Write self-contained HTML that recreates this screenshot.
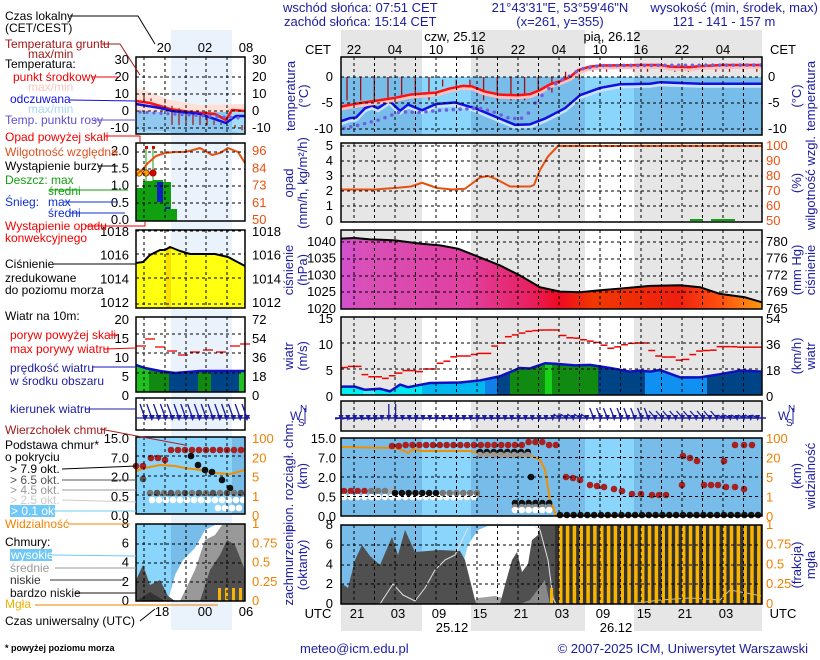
<!DOCTYPE html>
<html><head><meta charset="utf-8"><style>
html,body{margin:0;padding:0;background:#fff;width:820px;height:660px;overflow:hidden}
svg{display:block;font-family:"Liberation Sans",sans-serif}
</style></head><body>
<svg id="s" width="820" height="660" viewBox="0 0 820 660" xmlns="http://www.w3.org/2000/svg"></svg>
<script>
(function(){
var o=[];function a(s){o.push(s)}
function T(x,y,t,c,sz,anc,extra){a('<text x="'+x+'" y="'+y+'" fill="'+(c||'#000')+'" font-size="'+(sz||12)+'"'+(anc?' text-anchor="'+anc+'"':'')+(extra||'')+'>'+t+'</text>')}
function R(x,y,w,h,c,extra){a('<rect x="'+x+'" y="'+y+'" width="'+w+'" height="'+h+'" fill="'+c+'"'+(extra||'')+'/>')}
function L(x1,y1,x2,y2,c,w,extra){a('<line x1="'+x1+'" y1="'+y1+'" x2="'+x2+'" y2="'+y2+'" stroke="'+c+'" stroke-width="'+(w||1)+'"'+(extra||'')+'/>')}
function P(pts,c,w,fill){a('<polyline points="'+pts.map(function(p){return p[0]+','+p[1]}).join(' ')+'" stroke="'+(c||'none')+'" stroke-width="'+(w||1)+'" fill="'+(fill||'none')+'" stroke-linejoin="round"/>')}
function G(pts,fill){a('<polygon points="'+pts.map(function(p){return p[0]+','+p[1]}).join(' ')+'" fill="'+fill+'"/>')}
function interp(arr,x){for(var i=1;i<arr.length;i++)if(x<=arr[i][0]){var p=arr[i-1],q=arr[i];return p[1]+(q[1]-p[1])*(x-p[0])/(q[0]-p[0])}return arr[arr.length-1][1]}
var NAV='#1c1ca0',ORG='#f08000';
var X0=341,X1=762;
var bands=[[341,422,1],[422,471,0],[471,585,1],[585,634,0],[634,762,1]];
bands.forEach(function(b){if(b[2]){R(b[0],30,b[1]-b[0],27,'#e6e6e6');R(b[0],604,b[1]-b[0],27,'#e6e6e6');}});
function bg(y0,y1,night,day){bands.forEach(function(b){R(b[0],y0,b[1]-b[0],y1-y0,b[2]?night:day)})}
var VX=[];for(var k=0;k<20;k++)VX.push(354+20.5*k);
function grid(y0,y1,hy){VX.forEach(function(x){L(x,y0,x,y1,'#000',1,' stroke-dasharray="3,3"')});hy.forEach(function(y){L(X0,y,X1,y,'#000',1,' stroke-dasharray="3,3"')});a('<rect x="'+X0+'" y="'+y0+'" width="'+(X1-X0)+'" height="'+(y1-y0)+'" fill="none" stroke="#000" stroke-width="1.5"/>')}
T(283,12,'wschód słońca: 07:51 CET',NAV,13);T(284,26,'zachód słońca: 15:14 CET',NAV,13);
T(560,12,'21°43\'31"E, 53°59\'46"N',NAV,13,'middle');T(560,26,'(x=261,  y=355)',NAV,13,'middle');
T(818,12,'wysokość (min, środek, max)',NAV,13,'end');T(724,26,'121 - 141 - 157 m',NAV,13,'middle');
T(455,41,'czw, 25.12','#000',13,'middle');T(612,41,'pią, 26.12','#000',13,'middle');
T(318,54,'CET','#000',13,'middle');T(783,54,'CET','#000',13,'middle');
['22','04','10','16','22','04','10','16','22','04'].forEach(function(t,i){T(354+41*i,54,t,'#000',13,'middle')});
// temperature
var ty=function(t){return 77-5.2*t};
bg(57,135,'#e6e6e6','#fff');
bg(77,135,'#78bdea','#8ad5fb');
var red=[[341,-5.7],[354,-5.2],[375,-4.6],[395,-4.0],[410,-3.4],[422,-3.2],[436,-3.0],[450,-2.2],[463,-1.7],[472,-1.8],[485,-2.8],[500,-3.4],[518,-3.5],[530,-3.3],[540,-2.5],[550,-1.4],[560,-0.8],[570,0],[578,1.3],[590,2],[600,2.2],[641,2.3],[660,2.3],[670,2.0],[690,1.9],[700,2.1],[723,2.3],[762,2.3]];
var blue=[[341,-8.5],[350,-7.9],[356,-7.8],[365,-6.0],[372,-5.5],[378,-6.0],[386,-5.0],[389,-4.5],[400,-6.5],[408,-5.3],[422,-6.4],[436,-5.2],[455,-4.9],[475,-6.0],[500,-8.0],[515,-9.2],[530,-9.1],[545,-8.0],[565,-6.0],[580,-3.5],[600,-2.1],[620,-1.4],[650,-1.3],[660,-1.0],[700,-1.3],[762,-1.3]];
for(var x=347;x<762;x+=13.66){var tp,bt;if(x<560){tp=(x>440&&x<475)?-0.5:0;bt=(x>440&&x<480)?-1.8:(x>525?-3.0:-4.5);}else if(x<585){tp=1;bt=-0.5}else{tp=2.1;bt=1.0}L(x,ty(tp),x,ty(bt),'#a01010',1.3)}
P(blue.map(function(p){return[p[0],ty(p[1])+2]}),'#c8e4ff',4);
P(blue.map(function(p){return[p[0],ty(p[1])]}),'#1010e0',2.5);
P(red.map(function(p){return[p[0],ty(p[1])+1.5]}),'#ffc0c0',5);
P(red.map(function(p){return[p[0],ty(p[1])]}),'#ff1010',2.5);
var dew=[[341,-10],[360,-9.2],[380,-8.2],[400,-6.7],[420,-6.8],[440,-6.4],[460,-6.2],[480,-6.0],[495,-6.8],[510,-8.0],[525,-7.9],[537,-4.5],[550,-2.0],[560,-0.8],[570,0.2],[580,1.5],[600,2.2],[762,2.3]];
for(var x=344;x<762;x+=6.83)a('<circle cx="'+x+'" cy="'+ty(interp(dew,x))+'" r="1.8" fill="#7060e0"/>');
grid(57,135,[77,103,129]);
T(333,81,'0','#000',13,'end');T(333,107,'-5','#000',13,'end');T(333,133,'-10','#000',13,'end');
T(768,81,'0','#000',13);T(768,107,'-5','#000',13);T(768,133,'-10','#000',13);
function vt(x,y,t,c){a('<text transform="translate('+x+','+y+') rotate(-90)" fill="'+c+'" font-size="13" text-anchor="middle">'+t+'</text>')}
vt(295,96,'temperatura',NAV);vt(308,96,'(°C)',NAV);vt(801,96,'(°C)',NAV);vt(815,96,'temperatura',NAV);
// precip
var hy=function(h){return 221-1.5*(h-50)};
bg(143,222,'#e6e6e6','#fff');
var hum=[[341,71],[375,71],[395,72],[411,73],[422,75.5],[437,72],[452,71],[465,71.5],[480,79],[488,80],[496,78],[510,73],[530,73],[534,74],[540,84],[548,93],[558,100],[762,100]];
P(hum.map(function(p){return[p[0],hy(p[1])]}),'#e85010',2);
R(690,219,13,2,'#10a010');R(711,219,24,2,'#10a010');
grid(143,222,[146,161,176,191,206]);
['5','4','3','2','1','0'].forEach(function(t,i){T(333,150+15*i,t,'#000',13,'end');});
['100','90','80','70','60','50'].forEach(function(t,i){T(766,150+15*i,t,'#f05010',13);});
vt(293,183,'opad',NAV);vt(307,183,'(mm/h, kg/m²/h)',NAV);vt(801,183,'(%)',NAV);vt(815,183,'wilgotność wzgl.',NAV);
// pressure
var py=function(p){return 309-3.35*(p-1020)};
bg(230,309,'#e6e6e6','#fff');
a('<defs><linearGradient id="pg" x1="341" x2="762" y1="0" y2="0" gradientUnits="userSpaceOnUse"><stop offset="0" stop-color="#d050d0"/><stop offset="0.05" stop-color="#d850b8"/><stop offset="0.3" stop-color="#e040a0"/><stop offset="0.45" stop-color="#e82060"/><stop offset="0.52" stop-color="#ee0a20"/><stop offset="0.6" stop-color="#f03800"/><stop offset="0.8" stop-color="#ee2010"/><stop offset="0.9" stop-color="#ff5010"/><stop offset="1" stop-color="#ff9a10"/></linearGradient></defs>');
var pr=[[341,1041],[355,1041.2],[370,1040.8],[395,1040.5],[420,1039.5],[440,1039],[458,1038],[475,1036],[500,1033],[520,1030],[540,1026.5],[560,1025.2],[580,1025],[600,1025.6],[620,1026.1],[650,1026.9],[680,1027.1],[700,1026.5],[720,1024.5],[745,1023.5],[762,1022]];
var pp=pr.map(function(p){return[p[0],py(p[1])]});
G([[341,309]].concat(pp,[[762,309]]),'url(#pg)');
P(pp,'#000',2);
grid(230,309,[242,259,276,292]);
['1040','1035','1030','1025','1020'].forEach(function(t,i){T(336,246+16.7*i,t,'#000',13,'end');});
['780','776','772','769','765'].forEach(function(t,i){T(766,246+16.7*i,t,'#000',13);});
vt(293,270,'ciśnienie',NAV);vt(307,270,'(hPa)',NAV);vt(801,270,'(mm Hg)',NAV);vt(815,270,'ciśnienie',NAV);
// wind
var wy=function(v){return 395-5.2*v};
bg(317,395,'#e6e6e6','#fff');
var ws=[[341,1.6],[355,1.6],[365,1],[380,1.2],[390,0.7],[400,2],[408,1.5],[430,2.3],[460,2.4],[480,2.8],[500,3.6],[520,5.2],[530,5.1],[545,6.1],[555,6.0],[575,5.7],[590,5.8],[610,5.2],[630,4.5],[640,4.7],[650,4.5],[660,4.8],[680,3.4],[700,3.4],[720,4],[740,4.7],[762,4.5]];
var wp=ws.map(function(p){return[p[0],wy(p[1])]});
a('<clipPath id="wc"><polygon points="341,395 '+wp.map(function(p){return p[0]+','+p[1]}).join(' ')+' 762,395"/></clipPath><g clip-path="url(#wc)">');
[[341,363,'#00f0f0'],[363,375,'#40f0f0'],[375,422,'#00e8f0'],[422,485,'#00b8f0'],[485,497,'#1080e8'],[497,510,'#004488'],[510,545,'#108a10'],[545,552,'#18d018'],[552,598,'#108a10'],[598,645,'#004488'],[645,707,'#1090f0'],[707,762,'#004488']].forEach(function(s){R(s[0],317,s[1]-s[0],78,s[2])});
a('</g>');P(wp,'#1010c0',2.5);
var gk=[[341,5],[347,5.5],[362,5.5],[363,4.3],[367,3.5],[380,3.5],[381,3.2],[387,3.2],[388,3.7],[396,3.7],[402,4.7],[415,4.7],[416,4.5],[422,4.5],[423,5],[436,5],[437,6.1],[443,6.1],[444,6.5],[450,6.5],[451,7],[455,7.5],[470,7.5],[477,8],[490,8],[491,8.5],[497,10],[503,10],[504,11],[510,11.3],[518,11.7],[530,12.3],[543,12.5],[558,12.5],[559,11.7],[570,11],[580,10.9],[585,10.5],[596,10.2],[605,9.5],[613,8.8],[620,9.5],[633,10],[647,10],[648,9.2],[655,8],[660,7.3],[675,7.3],[678,6.7],[685,6.7],[690,7.5],[700,8.5],[713,8.6],[720,9.3],[733,9.3],[740,9.2],[762,9.2]];
for(var x=341;x<762;x+=6.83){var v=interp(gk,x+3.4);L(x,wy(v),Math.min(x+6.83,762),wy(v),'#f00000',1.5)}
grid(317,395,[343,369]);
['15','10','5','0'].forEach(function(t,i){T(333,323+26*i,t,'#000',13,'end');});
['54','36','18','0'].forEach(function(t,i){T(766,323+26*i,t,'#000',13);});
vt(293,356,'wiatr',NAV);vt(307,356,'(m/s)',NAV);vt(801,356,'(km/h)',NAV);vt(815,356,'wiatr',NAV);
// direction
bg(401,431,'#e6e6e6','#fff');
grid(401,431,[]);
L(335,418,766,418,NAV,1.5);
for(var x=341;x<762;x+=6.83){var dx,dy;if(x<385){dx=-6;dy=1}else if(x<400){dx=0;dy=-14}else if(x<555){dx=-6;dy=0.5}else if(x<590){dx=-6;dy=-4}else if(x<650){dx=-4;dy=-10}else if(x<720){dx=-6;dy=-7}else{dx=-6;dy=-3}
L(x,418,x+dx,418+dy,NAV,1.3);G([[x-2.5,415],[x+2.5,415],[x,421]],NAV)}
function wsen(x){T(x,420,'W',NAV,12);T(x+10,412,'N',NAV,10);T(x+8,426,'S',NAV,10);L(x+15,408,x+15,424,NAV,1);}
wsen(290);wsen(778);
// cloud base
bg(438,516,'#78bdea','#8ad5fb');
var vis=[[341,447],[395,448],[402,450],[408,453],[414,449],[420,451],[470,451],[478,453],[510,455],[532,456],[540,460],[545,470],[550,500],[556,515],[762,515]];
P(vis,'#f09000',2);
function dot(x,y,c){a('<circle cx="'+x+'" cy="'+y+'" r="3.3" fill="'+c+'"/>')}
var DR='#a82020';
for(var x=392;x<558;x+=6.83){var y=445;if(x>525&&x<545)y=442;if(x<400)y=446;dot(x,y,DR)}
for(var x=344;x<395;x+=6.83)dot(x,491,x<370?DR:(x<385?'#777':'#aaa'));
for(var x=344;x<480;x+=6.83)dot(x,497,'#fff');
for(var x=395;x<480;x+=6.83)dot(x,493,x<440?'#111':'#777');
for(var x=480;x<528;x+=6.83){dot(x,452,'#111');dot(x,455,'#999')}
dot(531,477,'#111');
for(var x=515;x<555;x+=6.83){dot(x,503,'#111');dot(x,507,'#888');dot(x,510,'#fff')}
[[566,477],[573,478],[580,480],[590,485],[597,486],[604,487],[614,489],[622,491],[632,494],[641,494],[652,495],[659,495],[666,495]].forEach(function(p){dot(p[0],p[1],DR)});
[[683,456],[690,458],[697,461],[704,485],[711,485],[718,485],[726,487],[735,487],[744,489],[724,461],[735,445],[744,445],[752,445],[682,485]].forEach(function(p){dot(p[0],p[1],DR)});
for(var x=560;x<762;x+=6.83)dot(x,515,'#111');
grid(438,516,[457.5,477,496.5]);
['15.0','7.0','2.0','0.5','0.0'].forEach(function(t,i){T(336,443+19.5*i,t,'#000',13,'end');});
['100','20','5','1','0'].forEach(function(t,i){T(766,443+19.5*i,t,ORG,13);});
vt(293,476,'pion. rozciągł. chm.',NAV);vt(307,476,'(km)',NAV);vt(801,476,'(km)',NAV);vt(815,476,'widzialność',NAV);
// cloud cover
bg(525,604,'#78bdea','#8ad5fb');
G([[455,604],[460,575],[468,545],[478,530],[488,526],[545,526],[545,604]],'#fff');
G([[470,604],[478,598],[495,596],[510,600],[520,604]],'#a0a0a0');
G([[341,604],[341,583],[348,588],[355,560],[362,545],[370,556],[380,565],[392,537],[398,555],[405,530],[415,552],[440,550],[460,551],[465,560],[470,580],[476,604]],'#505050');
G([[500,604],[505,585],[512,560],[517,552],[522,572],[528,564],[532,540],[538,535],[540,525],[555,525],[560,604]],'#505050');
G([[520,604],[530,600],[545,580],[550,604]],'#888');
R(555,525,207,79,'#333');
P([[380,604],[393,584],[403,595],[415,601],[425,588],[435,570],[445,560],[455,555],[468,528]],'#e0e0e0',1);
P([[533,525],[540,530],[548,560],[553,598],[556,604]],'#e0e0e0',1);
P([[630,604],[660,600],[690,598],[720,600],[730,590],[762,596]],'#bbb',1);
for(var x=559;x<762;x+=6.83)R(x,525,3.5,79,'#f8b400');
R(550,588,3,16,'#f8b400');
grid(525,604,[545,565,584]);
['8','6','4','2','0'].forEach(function(t,i){T(333,529+19.7*i,t,'#000',13,'end');});
['1','0.75','0.5','0.25','0'].forEach(function(t,i){T(766,529+19.7*i,t,ORG,13);});
vt(293,565,'zachmurzenie',NAV);vt(307,565,'(oktanty)',NAV);vt(801,565,'(frakcja)',NAV);vt(815,565,'mgła',NAV);
T(318,618,'UTC','#000',13,'middle');T(783,618,'UTC','#000',13,'middle');
['21','03','09','15','21','03','09','15','21','03'].forEach(function(t,i){T(357+41*i,618,t,'#000',13,'middle')});
T(452,632,'25.12','#000',13,'middle');T(616,632,'26.12','#000',13,'middle');
T(300,653,'meteo@icm.edu.pl',NAV,13);T(808,653,'© 2007-2025 ICM, Uniwersytet Warszawski',NAV,13,'end');
// LEFT LEGEND
var lx0=136,lx1=245;
R(171,30,61,600,'#eaf2fc');
function lgrid(y0,y1,hy,vx){(vx||[144,165,186,206,227]).forEach(function(x){L(x,y0,x,y1,'#000',1,' stroke-dasharray="3,3"')});hy.forEach(function(y){L(lx0,y,lx1,y,'#000',1,' stroke-dasharray="3,3"')});a('<rect x="'+lx0+'" y="'+y0+'" width="'+(lx1-lx0)+'" height="'+(y1-y0)+'" fill="none" stroke="#000" stroke-width="1.5"/>')}
T(164,52,'20','#000',13,'middle');T(205,52,'02','#000',13,'middle');T(246,52,'08','#000',13,'middle');
R(lx0,57,109,77,'#fff');R(171,57,61,77,'#eaf2fc');
G([[136,88],[150,92],[170,100],[200,105],[245,104],[245,112],[136,112]],'#fde0d8');
G([[136,112],[245,112],[245,134],[136,134]],'#a6dcf8');
G([[171,112],[232,112],[232,134],[171,134]],'#88c8f0');
G([[136,130],[136,112],[160,112],[200,125],[245,134]],'#90c8f0');
for(var x=144;x<245;x+=7)L(x,Math.max(78,96+(x-144)*0.35),x,x<170?101:125,'#a01010',1.2);
P([[136,101],[150,103],[170,109],[190,112],[215,114],[226,120],[232,110],[245,111]],'#ff1010',2.5);
P([[136,104],[160,108],[172,111],[200,114],[226,123],[236,116],[245,116]],'#1010e0',2.5);
for(var x=140;x<245;x+=7)a('<circle cx="'+x+'" cy="'+(112+(x-140)*0.06)+'" r="1.6" fill="#7060e0"/>');
lgrid(57,134,[77,94,111,128]);
['30','20','10','0','-10'].forEach(function(t,i){T(129,64+17*i,t,'#000',13,'end');T(252,64+17*i,t,'#000',13)});
R(lx0,143,109,78,'#fff');R(171,143,61,78,'#eaf2fc');
R(136,188,25,33,'#10a010');R(143,181,18,40,'#10a010');R(153,180,10,41,'#10a010');R(161,182,10,39,'#10a010');R(157,182,6,20,'#1020c0');R(165,207,5,14,'#1020c0');R(165,209,12,12,'#10a010');
L(146,148,146,184,'#10a010',1);L(153,148,153,184,'#10a010',1);
a('<circle cx="139" cy="173" r="3.2" fill="#f8e000" stroke="#800" stroke-width="0.7"/><circle cx="146" cy="173" r="3.2" fill="#f0a000" stroke="#800" stroke-width="0.7"/><circle cx="153" cy="173" r="3.2" fill="#e00000" stroke="#800" stroke-width="0.7"/>');
R(145,146,3,3,'#e00000');R(152,146,3,3,'#e00000');
P([[136,175],[142,170],[148,163],[156,156],[165,153],[175,152],[185,152],[193,150],[200,148],[212,155],[220,153],[228,148],[238,152],[245,163]],'#e85010',2);
lgrid(143,221,[152,169,186,203]);
['2.0','1.5','1.0','0.5','0.0'].forEach(function(t,i){T(129,155+17.3*i,t,'#000',13,'end')});
['96','84','73','61','50'].forEach(function(t,i){T(252,155+17.3*i,t,'#e85010',13)});
R(lx0,230,109,78,'#fff');R(171,230,61,78,'#eaf2fc');
var mp=[[136,263],[143,262],[150,255],[160,250],[165,250],[170,247],[180,251],[190,254],[215,254],[228,257],[245,266]];
G([[136,308]].concat(mp,[[245,308]]),'#ffff10');R(166,248,5,60,'#f8e000');
P(mp,'#000',2);
lgrid(230,308,[231,254,278,304]);
['1018','1016','1014','1012'].forEach(function(t,i){T(129,236+23.7*i,t,'#000',13,'end');T(252,236+23.7*i,t,'#000',13)});
R(lx0,317,109,75,'#fff');R(171,317,61,75,'#eaf2fc');
var mw=[[136,365],[145,368],[160,371],[175,373],[200,371],[245,371]];
a('<clipPath id="mwc"><polygon points="136,392 '+mw.map(function(p){return p[0]+','+p[1]}).join(' ')+' 245,392"/></clipPath><g clip-path="url(#mwc)">');
[[136,149,'#20c020'],[149,169,'#108a10'],[169,198,'#004488'],[198,211,'#108a10'],[211,239,'#004488'],[239,245,'#20c020']].forEach(function(s){R(s[0],317,s[1]-s[0],75,s[2])});
a('</g>');P(mw,'#1010c0',2.5);
[[136,346],[145,339],[155,347],[167,351],[178,355],[190,352],[203,350],[216,352],[230,346],[240,344]].forEach(function(p){L(p[0],p[1],p[0]+10,p[1],'#f00000',1.3)});
lgrid(317,392,[334,353,373]);
['20','15','10','5','0'].forEach(function(t,i){T(129,324+19*i,t,'#000',13,'end')});
['72','54','36','18','0'].forEach(function(t,i){T(252,324+19*i,t,'#000',13)});
R(lx0,398,109,32,'#fff');R(171,398,61,32,'#eaf2fc');
lgrid(398,430,[]);L(136,418,250,418,NAV,1.2);
for(var x=140;x<248;x+=6.8){L(x,404,x+5,418,NAV,1.3);G([[x+2,415],[x+8,415],[x+5,421]],NAV)}
R(lx0,437,109,77,'#78bdea');R(171,437,61,77,'#8ad5fb');R(136,437,35,77,'#8ad5fb');
P([[136,471],[145,468],[160,465],[175,466],[185,468],[200,470],[215,473],[230,474],[245,470]],'#f09000',2);
for(var x=171;x<245;x+=7)dot(x,450,DR);dot(151,458,DR);dot(158,458,DR);dot(165,460,DR);dot(136,466,DR);dot(143,466,DR);
[[191,456,'#111'],[198,465,'#111'],[205,470,'#111'],[212,472,'#111'],[222,480,'#111'],[230,488,'#111'],[143,479,'#555']].forEach(function(p){dot(p[0],p[1],p[2])});
for(var x=150;x<245;x+=7){dot(x,493,x%2?'#555':'#777');dot(x+2,500,'#fff')}
for(var x=218;x<245;x+=7)dot(x,508,'#fff');
lgrid(437,514,[456,476,495]);
['15.0','7.0','2.0','0.5','0.0'].forEach(function(t,i){T(129,443+19.3*i,t,'#000',13,'end')});
['100','20','5','1','0'].forEach(function(t,i){T(252,443+19.3*i,t,ORG,13)});
R(lx0,524,109,77,'#8ad5fb');R(171,524,61,77,'#78bdea');
G([[168,601],[175,575],[183,560],[195,548],[205,530],[215,525],[245,524],[245,601]],'#fff');
G([[180,601],[195,570],[205,540],[215,535],[222,525],[245,524],[245,601]],'#999');
G([[136,580],[143,565],[150,585],[160,580],[168,596],[175,601],[136,601]],'#505050');
G([[200,601],[210,570],[220,555],[227,540],[235,545],[245,570],[245,601]],'#505050');
G([[138,600],[150,592],[165,601]],'#333');
for(var x=218;x<245;x+=7)R(x,588,3,13,'#f8b400');
lgrid(524,601,[544,563,582]);
['8','6','4','2','0'].forEach(function(t,i){T(129,528+19.3*i,t,'#000',13,'end')});
['1','0.75','0.5','0.25','0'].forEach(function(t,i){T(252,528+19.3*i,t,ORG,13)});
T(162,616,'18','#000',13,'middle');T(205,616,'00','#000',13,'middle');T(246,616,'06','#000',13,'middle');
var S=12;
T(5,20,'Czas lokalny','#000',S);T(5,32,'(CET/CEST)','#000',S);
T(5,48,'Temperatura gruntu','#a01818',S);T(28,58,'max/min','#a01818',S);
T(5,68,'Temperatura:','#000',S);T(13,81,'punkt środkowy','#f00000',S);T(28,91,'max/min','#f8c8c0',S);
T(10,103,'odczuwana','#1010e0',S);T(28,113,'max/min','#a8d8f8',S);T(5,124,'Temp. punktu rosy','#6050d0',S);
T(5,141,'Opad powyżej skali','#f00000',S);T(5,156,'Wilgotność względna','#e05020',S);T(5,170,'Wystąpienie burzy','#000',S);
T(5,184,'Deszcz: max','#10a010',S);T(48,195,'średni','#10a010',S);T(5,206,'Śnieg:','#1030d0',S);T(48,206,'max','#1030d0',S);T(48,217,'średni','#1030d0',S);
T(5,230,'Wystąpienie opadu','#f00000',S);T(5,242,'konwekcyjnego','#f00000',S);
T(5,268,'Ciśnienie','#000',S);T(5,282,'zredukowane','#000',S);T(5,294,'do poziomu morza','#000',S);
T(5,320,'Wiatr na 10m:','#000',S);T(10,339,'poryw powyżej skali','#f00000',S);T(10,353,'max porywy wiatru','#f00000',S);
T(10,372,'prędkość wiatru',NAV,S);T(10,385,'w środku obszaru',NAV,S);T(10,413,'kierunek wiatru',NAV,S);
T(5,434,'Wierzchołek chmur','#a01818',S);T(5,449,'Podstawa chmur*','#000',S);T(5,461,'o pokryciu','#000',S);
T(10,473,'&gt; 7.9 okt.','#000',S);T(10,484,'&gt; 6.5 okt.','#555',S);T(10,494,'&gt; 4.5 okt.','#999',S);T(10,504,'&gt; 2.5 okt.','#ccc',S);
R(10,505,45,12,'#70c8f8');T(11,515,'&gt; 0.1 okt.','#fff',S);
T(5,528,'Widzialność',ORG,S);T(5,546,'Chmury:','#000',S);R(10,549,42,12,'#70c8f8');T(11,559,'wysokie','#fff',S);
T(10,572,'średnie','#999',S);T(10,584,'niskie','#333',S);T(10,597,'bardzo niskie','#111',S);T(5,608,'Mgła','#f0b000',S);
T(5,625,'Czas uniwersalny (UTC)','#000',S);T(5,651,'* powyżej poziomu morza','#000',9,null,' font-weight="bold"');
[[70,16,138,16,155,44,'#000'],[102,44,120,44,140,75,'#a01818'],[92,77,118,77,'#f00000'],[70,100,136,101,'#1010e0'],[94,120,136,120,'#6050d0'],[105,136,140,136,140,142,'#f00000'],[112,152,118,152,'#e05020'],[98,166,118,166,'#000'],[50,190,128,190,'#10a010'],[64,202,118,202,'#1030d0'],[70,213,125,213,'#1030d0'],[85,226,145,226,145,222,'#f00000'],[54,264,136,264,'#000'],[110,335,118,335,'#f00000'],[104,349,136,348,'#f00000'],[92,367,136,367,'#1010c0'],[85,409,136,409,NAV],[100,429,185,445,DR],[62,469,136,466,'#000'],[62,480,136,480,'#555'],[62,490,136,490,'#999'],[62,500,136,502,'#ccc'],[55,511,136,511,'#70c8f8'],[68,524,130,524,ORG],[52,555,136,556,'#70c8f8'],[55,568,136,568,'#999'],[50,580,125,580,'#333'],[75,593,136,593,'#111'],[35,605,218,605,ORG],[140,621,155,609,'#000']].forEach(function(l){var pts=[];for(var i=0;i+1<l.length-1;i+=2)pts.push([l[i],l[i+1]]);P(pts,l[l.length-1],1)});
document.getElementById('s').innerHTML=o.join('');
})();
</script>
</body></html>
